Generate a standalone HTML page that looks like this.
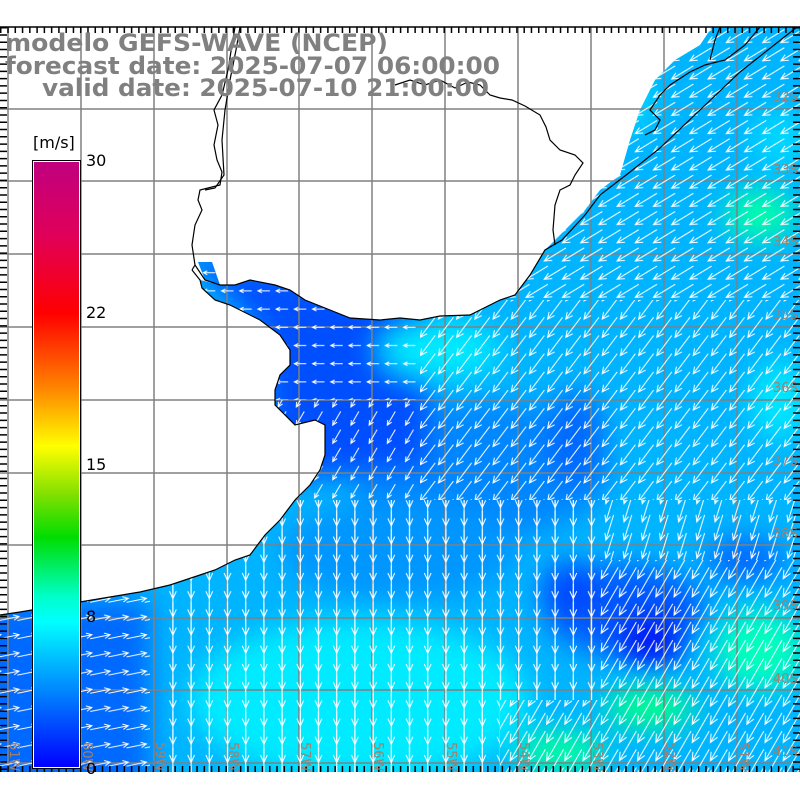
<!DOCTYPE html>
<html><head><meta charset="utf-8"><style>
html,body{margin:0;padding:0;background:#fff;width:800px;height:800px;overflow:hidden}
svg{display:block}
</style></head><body>
<svg width="800" height="800" xmlns="http://www.w3.org/2000/svg" xmlns:xlink="http://www.w3.org/1999/xlink" font-family="DejaVu Sans, Liberation Sans, sans-serif">
<defs>
<linearGradient id="cb" x1="0" y1="0" x2="0" y2="1">
<stop offset="0" stop-color="#c0007f"/>
<stop offset="0.12" stop-color="#e0005a"/>
<stop offset="0.25" stop-color="#ff0000"/>
<stop offset="0.37" stop-color="#ff8000"/>
<stop offset="0.47" stop-color="#ffff00"/>
<stop offset="0.55" stop-color="#80e000"/>
<stop offset="0.62" stop-color="#00dd00"/>
<stop offset="0.72" stop-color="#00ffcc"/>
<stop offset="0.76" stop-color="#00ffff"/>
<stop offset="1" stop-color="#0000ff"/>
</linearGradient>
<clipPath id="ocean"><polygon points="800,27 712,27 700,45 675,60 655,80 640,110 630,140 620,175 600,190 585,210 565,230 545,250 530,275 515,295 500,300 470,315 440,316 420,320 400,318 380,320 350,318 330,310 305,300 290,290 275,285 250,280 235,285 220,285 205,280 198,262 212,262 220,285 200,280 202,288 215,300 230,305 260,320 280,335 290,350 290,365 280,375 275,390 275,405 285,415 295,425 315,420 325,425 325,455 320,470 310,485 295,500 280,520 265,535 250,555 235,560 215,570 200,575 170,585 140,592 110,597 80,602 50,607 20,612 0,615 0,772 800,772"/></clipPath>
<filter id="bl" filterUnits="userSpaceOnUse" x="0" y="0" width="800" height="800"><feGaussianBlur stdDeviation="14"/></filter>
<path id="aA" d="M20 2.5L-1.8 15.7M6.2 15L-1.8 15.7L2.5 9.5"/>
<path id="aB" d="M16.6 -0.9L1.6 19.1M8.6 15.6L1.6 19.1L3 12"/>
<path id="aC" d="M15.1 9.1L3.1 9.1M7.1 11L3.1 9.1L7.1 7.2"/>
<path id="aD" d="M13.1 2.2L5.1 16M9.5 13L5.1 16L5.5 10.8"/>
<path id="aE" d="M9.1 -7.5L9.1 25.7M12.5 18.2L9.1 25.7L5.7 18.2"/>
<path id="aF" d="M13 -3.5L5.2 21.7M9.8 16.4L5.2 21.7L4.4 14.6"/>
<path id="aG" d="M17.6 -5.7L0.6 23.9M7.8 18.6L0.6 23.9L1.3 15"/>
<path id="aH" d="M-0.9 11.1L19.1 7.1M13.1 5.5L19.1 7.1L14.2 10.8"/>
<g id="gA"><use xlink:href="#aA"/><use xlink:href="#aA" x="18.2"/><use xlink:href="#aA" x="-18.2"/><use xlink:href="#aA" y="18.2"/><use xlink:href="#aA" y="-18.2"/><use xlink:href="#aA" x="18.2" y="18.2"/><use xlink:href="#aA" x="-18.2" y="-18.2"/><use xlink:href="#aA" x="18.2" y="-18.2"/><use xlink:href="#aA" x="-18.2" y="18.2"/></g>
<g id="gB"><use xlink:href="#aB"/><use xlink:href="#aB" x="18.2"/><use xlink:href="#aB" x="-18.2"/><use xlink:href="#aB" y="18.2"/><use xlink:href="#aB" y="-18.2"/><use xlink:href="#aB" x="18.2" y="18.2"/><use xlink:href="#aB" x="-18.2" y="-18.2"/><use xlink:href="#aB" x="18.2" y="-18.2"/><use xlink:href="#aB" x="-18.2" y="18.2"/></g>
<g id="gE"><use xlink:href="#aE"/><use xlink:href="#aE" y="18.2"/><use xlink:href="#aE" y="-18.2"/></g>
<g id="gF"><use xlink:href="#aF"/><use xlink:href="#aF" x="18.2"/><use xlink:href="#aF" x="-18.2"/><use xlink:href="#aF" y="18.2"/><use xlink:href="#aF" y="-18.2"/><use xlink:href="#aF" x="18.2" y="18.2"/><use xlink:href="#aF" x="-18.2" y="-18.2"/><use xlink:href="#aF" x="18.2" y="-18.2"/><use xlink:href="#aF" x="-18.2" y="18.2"/></g>
<g id="gG"><use xlink:href="#aG"/><use xlink:href="#aG" x="18.2"/><use xlink:href="#aG" x="-18.2"/><use xlink:href="#aG" y="18.2"/><use xlink:href="#aG" y="-18.2"/><use xlink:href="#aG" x="18.2" y="18.2"/><use xlink:href="#aG" x="-18.2" y="-18.2"/><use xlink:href="#aG" x="18.2" y="-18.2"/><use xlink:href="#aG" x="-18.2" y="18.2"/></g>
<g id="gH"><use xlink:href="#aH"/><use xlink:href="#aH" x="18.2"/><use xlink:href="#aH" x="-18.2"/></g>
<pattern id="pA" patternUnits="userSpaceOnUse" x="0" y="27" width="18.2" height="18.2"><use xlink:href="#gA" stroke="#fff" stroke-width="1" fill="none"/></pattern>
<pattern id="pB" patternUnits="userSpaceOnUse" x="0" y="27" width="18.2" height="18.2"><use xlink:href="#gB" stroke="#fff" stroke-width="1" fill="none"/></pattern>
<pattern id="pC" patternUnits="userSpaceOnUse" x="0" y="27" width="18.2" height="18.2"><use xlink:href="#aC" stroke="#fff" stroke-width="1" fill="none"/></pattern>
<pattern id="pD" patternUnits="userSpaceOnUse" x="0" y="27" width="18.2" height="18.2"><use xlink:href="#aD" stroke="#fff" stroke-width="1" fill="none"/></pattern>
<pattern id="pE" patternUnits="userSpaceOnUse" x="0" y="27" width="18.2" height="18.2"><use xlink:href="#gE" stroke="#fff" stroke-width="1" fill="none"/></pattern>
<pattern id="pF" patternUnits="userSpaceOnUse" x="0" y="27" width="18.2" height="18.2"><use xlink:href="#gF" stroke="#fff" stroke-width="1" fill="none"/></pattern>
<pattern id="pG" patternUnits="userSpaceOnUse" x="0" y="27" width="18.2" height="18.2"><use xlink:href="#gG" stroke="#fff" stroke-width="1" fill="none"/></pattern>
<pattern id="pH" patternUnits="userSpaceOnUse" x="0" y="27" width="18.2" height="18.2"><use xlink:href="#gH" stroke="#fff" stroke-width="1" fill="none"/></pattern>
</defs>

<g clip-path="url(#ocean)">
<rect x="0" y="27" width="800" height="745" fill="rgb(0,180,255)"/>
<g filter="url(#bl)">
<ellipse cx="480" cy="470" rx="130" ry="70" fill="rgb(0,135,255)"/>
<ellipse cx="400" cy="550" rx="120" ry="50" fill="rgb(0,150,255)"/>
<polygon points="180,250 430,300 430,470 270,480 260,330" fill="rgb(0,80,255)"/>
<ellipse cx="575" cy="440" rx="30" ry="50" fill="rgb(0,105,255)"/>
<ellipse cx="625" cy="610" rx="80" ry="45" fill="rgb(0,90,255)"/>
<ellipse cx="650" cy="640" rx="35" ry="30" fill="rgb(0,30,245)"/>
<ellipse cx="570" cy="590" rx="28" ry="28" fill="rgb(0,70,255)"/>
<ellipse cx="745" cy="560" rx="40" ry="22" fill="rgb(0,105,255)"/>
<rect x="-30" y="600" width="180" height="200" fill="rgb(0,105,255)"/>
<ellipse cx="360" cy="700" rx="170" ry="80" fill="rgb(0,235,255)"/>
<ellipse cx="760" cy="215" rx="35" ry="25" fill="rgb(0,255,170)"/>
<ellipse cx="650" cy="708" rx="45" ry="20" fill="rgb(0,255,140)"/>
<ellipse cx="560" cy="752" rx="45" ry="20" fill="rgb(0,255,160)"/>
<ellipse cx="760" cy="650" rx="45" ry="40" fill="rgb(0,255,190)"/>
<ellipse cx="620" cy="100" rx="30" ry="30" fill="rgb(0,225,255)"/>
<ellipse cx="440" cy="350" rx="60" ry="28" fill="rgb(0,235,255)"/>
<ellipse cx="780" cy="400" rx="30" ry="40" fill="rgb(0,230,255)"/>
<ellipse cx="780" cy="140" rx="30" ry="30" fill="rgb(0,215,255)"/>
</g>
</g>

<g stroke="#808080" stroke-width="1.5">
<line x1="8" y1="27" x2="8" y2="772"/><line x1="81" y1="27" x2="81" y2="772"/><line x1="154" y1="27" x2="154" y2="772"/><line x1="227" y1="27" x2="227" y2="772"/><line x1="299" y1="27" x2="299" y2="772"/><line x1="372" y1="27" x2="372" y2="772"/><line x1="445" y1="27" x2="445" y2="772"/><line x1="518" y1="27" x2="518" y2="772"/><line x1="591" y1="27" x2="591" y2="772"/><line x1="664" y1="27" x2="664" y2="772"/><line x1="737" y1="27" x2="737" y2="772"/>
<line x1="0" y1="109" x2="800" y2="109"/><line x1="0" y1="181" x2="800" y2="181"/><line x1="0" y1="254" x2="800" y2="254"/><line x1="0" y1="327" x2="800" y2="327"/><line x1="0" y1="400" x2="800" y2="400"/><line x1="0" y1="473" x2="800" y2="473"/><line x1="0" y1="545" x2="800" y2="545"/><line x1="0" y1="618" x2="800" y2="618"/><line x1="0" y1="690" x2="800" y2="690"/><line x1="0" y1="763" x2="800" y2="763"/>
</g>

<g clip-path="url(#ocean)">
<polygon points="420,27 800,27 800,300 420,300" fill="url(#pA)"/>
<polygon points="420,300 800,300 800,500 420,500" fill="url(#pB)"/>
<polygon points="180,250 420,250 420,400 180,400" fill="url(#pC)"/>
<polygon points="180,400 420,400 420,500 180,500" fill="url(#pD)"/>
<polygon points="165,500 600,500 600,700 500,700 500,772 165,772" fill="url(#pE)"/>
<polygon points="600,500 800,500 800,560 600,560" fill="url(#pF)"/>
<polygon points="600,560 800,560 800,772 500,772 500,700 600,700" fill="url(#pG)"/>
<polygon points="0,590 150,590 150,772 0,772" fill="url(#pH)"/>
</g>

<g stroke="#000" stroke-width="1.2" fill="none">
<polyline points="797,27 740,72 700,110 660,148 630,172 600,195 585,215 562,240 545,250 530,275 515,295 500,300 470,315 440,316 420,320 400,318 380,320 350,318 330,310 305,300 290,290 275,285 250,280 235,285 220,285 205,280 195,265 192,270"/>
<polyline points="192,270 200,280 202,288 215,300 230,305 260,320 280,335 290,350 290,365 280,375 275,390 275,405 285,415 295,425 315,420 325,425 325,455 320,470 310,485 295,500 280,520 265,535 250,555 235,560 215,570 200,575 170,585 140,592 110,597 80,602 50,607 20,612 0,615"/>
<polyline points="235,27 232,45 228,70 222,95 214,110 218,125 214,145 217,160 222,172 220,185 200,190 198,200 202,210 195,225 192,245 195,265"/>
<polyline points="240,27 236,50 230,80 225,110 222,140 224,175 215,188 205,190"/>
<polyline points="500,98 512,100 525,106 540,115 546,127 550,140 560,150 575,155 583,163 575,175 570,185 560,190 555,205 553,230 555,245"/>
<polyline points="500,98 490,95 480,85 468,82 455,88 440,80 425,85 410,80 395,85"/>
<polyline points="760,27 745,45 725,60 705,65 690,72 670,85 660,95 650,110 660,120 655,130 645,135"/>
<polyline points="720,27 715,40 710,60"/>
</g>

<g stroke="#000">
<line x1="0" y1="27" x2="800" y2="27" stroke-width="1.5"/>
<line x1="0" y1="30" x2="800" y2="30" stroke-width="6" stroke-dasharray="1.5 5.77"/>
<line x1="0" y1="769" x2="800" y2="769" stroke-width="6" stroke-dasharray="1.5 5.77"/>
<line x1="3.5" y1="27" x2="3.5" y2="772" stroke-width="7" stroke-dasharray="1.5 5.77"/>
<line x1="796.5" y1="27" x2="796.5" y2="772" stroke-width="7" stroke-dasharray="1.5 5.77"/>
</g>

<g fill="#a08070" font-size="13">
<text x="773" y="246">34S</text><text x="773" y="319">35S</text><text x="773" y="174">33S</text><text x="773" y="101">32S</text>
<text x="773" y="392">36S</text><text x="773" y="465">37S</text><text x="773" y="538">38S</text><text x="773" y="610">39S</text><text x="773" y="683">40S</text><text x="773" y="756">41S</text>
<text transform="translate(10,742) rotate(90)">61W</text><text transform="translate(83,742) rotate(90)">60W</text><text transform="translate(156,742) rotate(90)">59W</text><text transform="translate(229,742) rotate(90)">58W</text><text transform="translate(301,742) rotate(90)">57W</text><text transform="translate(374,742) rotate(90)">56W</text><text transform="translate(447,742) rotate(90)">55W</text><text transform="translate(520,742) rotate(90)">54W</text><text transform="translate(593,742) rotate(90)">53W</text><text transform="translate(666,742) rotate(90)">52W</text><text transform="translate(739,742) rotate(90)">51W</text>
</g>

<g fill="#808080" font-weight="bold" font-size="24">
<text x="5" y="51" textLength="383" lengthAdjust="spacingAndGlyphs">modelo GEFS-WAVE (NCEP)</text>
<text x="5" y="74" textLength="495" lengthAdjust="spacingAndGlyphs">forecast date: 2025-07-07 06:00:00</text>
<text x="42" y="96" textLength="447" lengthAdjust="spacingAndGlyphs">valid date: 2025-07-10 21:00:00</text>
</g>
<rect x="32.5" y="160.5" width="48" height="608" fill="#fff" stroke="#000" stroke-width="1"/>
<rect x="34" y="162" width="45" height="605" fill="url(#cb)"/>
<g font-size="16" fill="#000">
<text x="33" y="148">[m/s]</text>
<text x="86" y="166">30</text>
<text x="86" y="318">22</text>
<text x="86" y="470">15</text>
<text x="86" y="622">8</text>
<text x="86" y="774">0</text>
</g>
</svg>
</body></html>
